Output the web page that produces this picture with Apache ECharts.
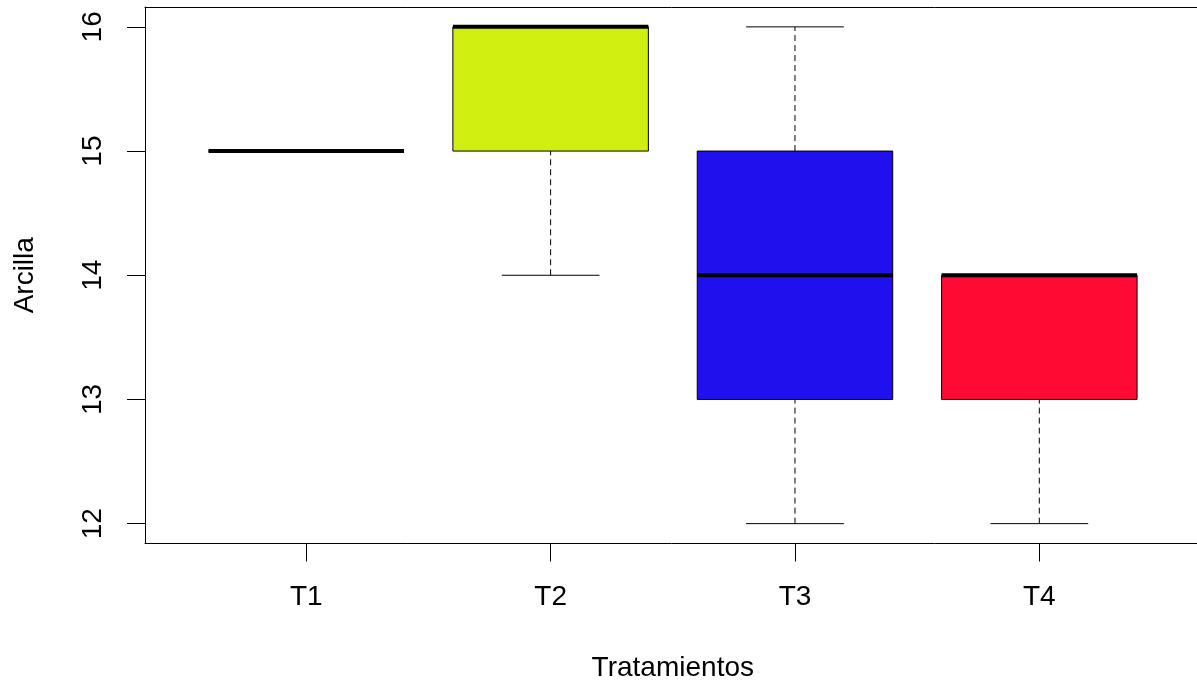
<!DOCTYPE html>
<html>
<head>
<meta charset="utf-8">
<script src="https://cdn.jsdelivr.net/npm/echarts@6/dist/echarts.min.js"></script>
<style>html,body{margin:0;padding:0;background:#fff;}#chart{width:1197px;height:683px;}</style>
</head>
<body>
<div id="chart"></div>
<script>
const categories = ['T1', 'T2', 'T3', 'T4'];
const lowerWhisker = [15, 14, 12, 12];
const lowerHinge = [15, 15, 13, 13];
const medians = [15, 16, 14, 14];
const upperHinge = [15, 16, 15, 14];
const upperWhisker = [15, 16, 16, 14];
const yTicks = [12, 13, 14, 15, 16];
const xTicks = [1, 2, 3, 4];

const fillColors = ['#FFFFFF', '#D0EE10', '#2010EE', '#FF0A33'];
const FONT = '"Liberation Sans", Arial, sans-serif';

const data = categories.map((c, i) => [i + 1, lowerWhisker[i], lowerHinge[i], medians[i], upperHinge[i], upperWhisker[i]]);

const chart = echarts.init(document.getElementById('chart'), null, {renderer: 'canvas'});

function renderItem(params, api) {
  const x = api.value(0);
  const lo = api.value(1), q1 = api.value(2), med = api.value(3), q3 = api.value(4), hi = api.value(5);
  const idx = params.dataIndex;
  const halfBox = 0.4, halfStaple = 0.2;
  const c = (xx, yy) => api.coord([xx, yy]);
  const children = [];
  const dashStyle = {stroke: '#000', lineWidth: 1, lineDash: [6, 4], fill: null};
  const solid = {stroke: '#000', lineWidth: 1, fill: null};
  if (lo < q1) {
    const a = c(x, lo), b = c(x, q1);
    children.push({type: 'line', shape: {x1: a[0], y1: a[1], x2: b[0], y2: b[1]}, style: dashStyle});
  }
  if (hi > q3) {
    const a = c(x, q3), b = c(x, hi);
    children.push({type: 'line', shape: {x1: a[0], y1: a[1], x2: b[0], y2: b[1]}, style: dashStyle});
  }
  [lo, hi].forEach(v => {
    const a = c(x - halfStaple, v), b = c(x + halfStaple, v);
    children.push({type: 'line', shape: {x1: a[0], y1: a[1], x2: b[0], y2: b[1]}, style: solid});
  });
  const tl = c(x - halfBox, q3), br = c(x + halfBox, q1);
  children.push({type: 'rect', shape: {x: tl[0], y: tl[1], width: br[0] - tl[0], height: br[1] - tl[1]},
    style: {fill: fillColors[idx], stroke: '#000', lineWidth: 1}});
  const m1 = c(x - halfBox, med), m2 = c(x + halfBox, med);
  children.push({type: 'line', shape: {x1: m1[0], y1: m1[1], x2: m2[0], y2: m2[1]},
    style: {stroke: '#000', lineWidth: 4, lineCap: 'butt', fill: null}});
  return {type: 'group', children};
}

const axisLineStyle = {show: true, onZero: false, lineStyle: {color: '#000', width: 1}};

chart.setOption({
  animation: false,
  backgroundColor: '#fff',
  grid: {left: 145, top: 7, width: 1055.6, height: 536.5, show: false,
    containLabel: false, outerBoundsMode: 'none'},
  xAxis: [{
    type: 'value', min: 0.34, max: 4.66, position: 'bottom',
    name: 'Tratamientos', nameLocation: 'middle', nameGap: 111,
    nameTextStyle: {fontSize: 28, color: '#000', fontFamily: FONT},
    axisLine: axisLineStyle,
    splitLine: {show: false},
    axisTick: {show: true, customValues: xTicks, length: 18, lineStyle: {color: '#000', width: 1}},
    axisLabel: {customValues: xTicks, margin: 40, fontSize: 28, color: '#000', fontFamily: FONT,
      formatter: v => categories[Math.round(v) - 1]}
  }, {
    type: 'value', min: 0.34, max: 4.66, position: 'top',
    axisLine: axisLineStyle,
    splitLine: {show: false},
    axisTick: {show: false},
    axisLabel: {show: false}
  }],
  yAxis: {
    type: 'value', min: 11.84, max: 16.16,
    name: 'Arcilla', nameLocation: 'middle', nameGap: 106, nameRotate: 90,
    nameTextStyle: {fontSize: 28, color: '#000', fontFamily: FONT},
    axisLine: axisLineStyle,
    splitLine: {show: false},
    axisTick: {show: true, customValues: yTicks, length: 18, lineStyle: {color: '#000', width: 1}},
    axisLabel: {customValues: yTicks, margin: 38, rotate: 90, fontSize: 28, color: '#000', fontFamily: FONT}
  },
  series: [{
    type: 'custom',
    renderItem: renderItem,
    xAxisIndex: 0,
    yAxisIndex: 0,
    encode: {x: 0, y: [1, 2, 3, 4, 5]},
    data: data,
    clip: false
  }]
});
</script>
</body>
</html>
